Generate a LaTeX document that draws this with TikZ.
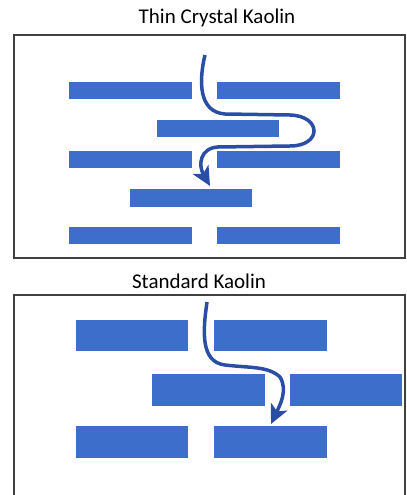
\documentclass[tikz,border=0pt]{standalone}
\usepackage{fontspec}
\setmainfont{Carlito}
\usetikzlibrary{arrows.meta}
\definecolor{barblue}{HTML}{3D6ECB}
\definecolor{arrowblue}{HTML}{2A4EA6}
\begin{document}
\begin{tikzpicture}[x=1bp,y=-1bp,
  bar/.style={fill=barblue,draw=none},
  framebox/.style={draw=black!75,line width=1.2bp},
  flow/.style={draw=arrowblue,line width=3.5bp,-{Stealth[length=19bp,width=18bp,inset=5bp]}},
  ttl/.style={font=\fontsize{21bp}{25bp}\selectfont,inner sep=0pt}]
\useasboundingbox (0,0) rectangle (406,495);
% top panel
\node[ttl] (t1) at (217,18) {Thin Crystal Kaolin};
\draw[framebox] (14,35) rectangle (405,258);
\fill[bar] (69,82) rectangle (192,99);
\fill[bar] (217,82) rectangle (340,99);
\fill[bar] (157,120) rectangle (279,137);
\fill[bar] (69,151) rectangle (192,168);
\fill[bar] (217,151) rectangle (340,168);
\fill[bar] (130,189) rectangle (252,207);
\fill[bar] (69,227) rectangle (192,244);
\fill[bar] (217,227) rectangle (340,244);
\coordinate (a0) at (205,55);
\coordinate (a1) at (210,186);
\draw[flow] (a0) .. controls (199,80) and (198,112) .. (225,114)
  -- (290,115) .. controls (322,116) and (322,146) .. (290,146)
  -- (218,147) .. controls (200,148) and (198,165) .. (a1);
% bottom panel
\node[ttl] (t2) at (199,281) {Standard Kaolin};
\draw[framebox] (14,496) -- (14,295) -- (405,295) -- (405,496);
\fill[bar] (76,320) rectangle (188,351);
\fill[bar] (214,320) rectangle (327,351);
\fill[bar] (152,374) rectangle (265,406);
\fill[bar] (290,374) rectangle (402,406);
\fill[bar] (76,426) rectangle (188,458);
\fill[bar] (214,426) rectangle (327,458);
\coordinate (b0) at (207,302);
\coordinate (b1) at (271,424);
\draw[flow] (b0) .. controls (203,330) and (200,362) .. (225,365)
  .. controls (250,368) and (268,366) .. (280,377)
  .. controls (288,390) and (280,405) .. (b1);
\end{tikzpicture}
\end{document}
